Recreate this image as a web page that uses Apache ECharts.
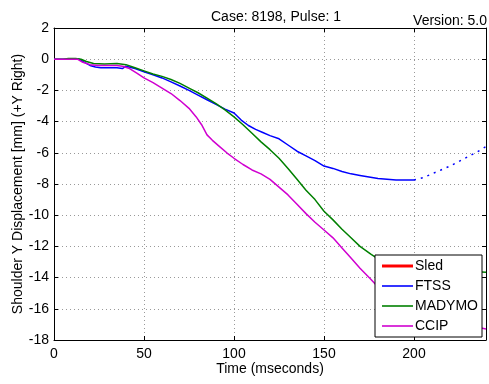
<!DOCTYPE html>
<html>
<head>
<meta charset="utf-8">
<script src="https://cdn.jsdelivr.net/npm/echarts@6/dist/echarts.min.js"></script>
<style>
	html, body { margin: 0; padding: 0; background: #fff; }
	#chart { width: 489px; height: 384px; }
</style>
</head>
<body>
<div id="chart"></div>
<script>
var xTicks = [0, 50, 100, 150, 200];
var yTicks = [2, 0, -2, -4, -6, -8, -10, -12, -14, -16, -18];

var sledTime = [];
var sledVals = [];

var ftssTime = [0, 5, 10, 14, 17, 20, 23, 26, 30, 35, 38, 40, 45, 50, 55, 60, 65, 70, 75, 80, 85, 90, 95, 100, 104, 108, 112, 116, 120, 125, 130, 135, 140, 145, 150, 155, 160, 165, 170, 175, 180, 185, 190, 195, 200];
var ftssVals = [0, 0, 0, 0, -0.2, -0.4, -0.5, -0.55, -0.55, -0.55, -0.6, -0.45, -0.6, -0.8, -1.0, -1.2, -1.45, -1.72, -2.0, -2.3, -2.6, -2.9, -3.2, -3.45, -3.9, -4.25, -4.5, -4.7, -4.9, -5.1, -5.5, -5.9, -6.2, -6.5, -6.85, -7.0, -7.2, -7.35, -7.45, -7.55, -7.65, -7.7, -7.75, -7.75, -7.75];

// extrapolated part of FTSS, drawn dotted
var ftssExtTime = [200, 205, 210, 215, 220, 225, 230, 235, 240];
var ftssExtVals = [-7.75, -7.6, -7.35, -7.1, -6.85, -6.55, -6.25, -5.95, -5.6];

var madymoTime = [0, 5, 8, 12, 15, 18, 22, 28, 35, 40, 45, 50, 55, 60, 65, 70, 75, 80, 85, 90, 95, 100, 105, 110, 115, 120, 125, 130, 135, 140, 145, 150, 155, 160, 165, 170, 176, 180, 190, 200, 210, 220, 230, 240];
var madymoVals = [0, 0, 0.05, 0.05, 0, -0.15, -0.28, -0.3, -0.28, -0.35, -0.55, -0.75, -0.95, -1.1, -1.3, -1.55, -1.85, -2.15, -2.5, -2.85, -3.25, -3.7, -4.2, -4.75, -5.3, -5.8, -6.35, -7.0, -7.7, -8.4, -9.0, -9.75, -10.3, -10.9, -11.45, -12.0, -12.5, -12.8, -13.1, -13.3, -13.45, -13.55, -13.6, -13.65];

var ccipTime = [0, 10, 13, 16, 20, 25, 30, 35, 38, 42, 46, 50, 55, 60, 65, 70, 75, 79, 82, 85, 88, 92, 96, 100, 105, 110, 115, 120, 125, 130, 135, 140, 145, 150, 155, 160, 165, 170, 176, 180, 190, 200, 210, 220, 230, 240];
var ccipVals = [0, 0, 0, -0.2, -0.35, -0.4, -0.4, -0.4, -0.45, -0.6, -0.9, -1.2, -1.5, -1.85, -2.2, -2.65, -3.15, -3.7, -4.2, -4.85, -5.2, -5.6, -6.0, -6.35, -6.75, -7.1, -7.35, -7.7, -8.2, -8.7, -9.3, -9.9, -10.45, -10.95, -11.45, -12.1, -12.75, -13.4, -14.1, -14.6, -15.4, -16.0, -16.45, -16.8, -17.05, -17.3];

function pairs(t, v) {
	var out = [];
	for (var i = 0; i < t.length; i++) {
		out.push([t[i], v[i]]);
	}
	return out;
}

var font = 'Liberation Sans, Arial, sans-serif';
var fs = 14;
function gridLine() {
	return { show: true, lineStyle: { color: '#999', type: [1, 3], width: 1 } };
}
var blackLine = { show: true, onZero: false, lineStyle: { color: '#000', width: 1 } };
var inTick = { show: true, inside: true, length: 4, lineStyle: { color: '#000' } };
var thinIcon = 'path://M0,0H31V1.6H0Z';
var thickIcon = 'path://M0,0H31V3H0Z';

var chart = echarts.init(document.getElementById('chart'));
chart.setOption({
	animation: false,
	backgroundColor: '#fff',
	textStyle: { fontFamily: font },
	title: {
		text: 'Case: 8198, Pulse: 1',
		left: 271,
		textAlign: 'center',
		top: 5,
		textStyle: { fontSize: fs, fontWeight: 'normal', color: '#000', fontFamily: font }
	},
	graphic: [{
		type: 'text',
		right: 2,
		top: 14,
		style: { text: 'Version: 5.0', font: fs + 'px ' + font, fill: '#000' }
	}],
	grid: { left: 54, right: -1, top: 28, bottom: 44, containLabel: false },
	legend: {
		orient: 'vertical',
		left: 375,
		top: 255,
		width: 112,
		padding: [4, 4, 4, 7],
		itemWidth: 31,
		itemHeight: 14,
		itemGap: 6,
		backgroundColor: '#fff',
		borderColor: '#000',
		borderWidth: 1,
		textStyle: { fontSize: fs, color: '#000', fontFamily: font, padding: [0, 0, 0, -3] },
		data: [
			{ name: 'Sled', icon: thickIcon },
			{ name: 'FTSS', icon: thinIcon },
			{ name: 'MADYMO', icon: thinIcon },
			{ name: 'CCIP', icon: thinIcon }
		]
	},
	xAxis: [{
		type: 'value',
		min: 0,
		max: 240,
		interval: 50,
		name: 'Time (mseconds)',
		nameLocation: 'middle',
		nameGap: 22,
		nameMoveOverlap: false,
		nameTextStyle: { fontSize: fs, color: '#000', fontFamily: font },
		axisLine: blackLine,
		axisTick: inTick,
		axisLabel: {
			color: '#000', fontSize: fs, margin: 7, fontFamily: font,
			formatter: function(v) { return xTicks.indexOf(v) >= 0 ? String(v) : ''; }
		},
		splitLine: gridLine()
	}, {
		type: 'value',
		position: 'top',
		min: 0,
		max: 240,
		interval: 50,
		axisLine: blackLine,
		axisTick: inTick,
		axisLabel: { show: false },
		splitLine: { show: false }
	}],
	yAxis: [{
		type: 'value',
		min: -18,
		max: 2,
		interval: 2,
		name: 'Shoulder Y Displacement [mm] (+Y Right)',
		nameLocation: 'middle',
		nameGap: 29,
		nameMoveOverlap: false,
		nameTextStyle: { fontSize: fs, color: '#000', fontFamily: font },
		axisLine: blackLine,
		axisTick: inTick,
		axisLabel: {
			color: '#000', fontSize: fs, margin: 5, fontFamily: font,
			formatter: function(v) { return yTicks.indexOf(v) >= 0 ? String(v) : ''; }
		},
		splitLine: gridLine()
	}, {
		type: 'value',
		position: 'right',
		min: -18,
		max: 2,
		interval: 2,
		axisLine: blackLine,
		axisTick: inTick,
		axisLabel: { show: false },
		splitLine: { show: false }
	}],
	series: [{
		name: 'Sled',
		type: 'line',
		symbol: 'none',
		color: '#ff0000',
		lineStyle: { width: 3 },
		data: pairs(sledTime, sledVals)
	}, {
		name: 'FTSS',
		type: 'line',
		symbol: 'none',
		color: '#0000ff',
		lineStyle: { width: 1.5 },
		data: pairs(ftssTime, ftssVals)
	}, {
		name: 'FTSS ext',
		type: 'line',
		symbol: 'none',
		color: '#0000ff',
		lineStyle: { width: 1.5, type: [2, 5] },
		data: pairs(ftssExtTime, ftssExtVals)
	}, {
		name: 'MADYMO',
		type: 'line',
		symbol: 'none',
		color: '#008000',
		lineStyle: { width: 1.5 },
		data: pairs(madymoTime, madymoVals)
	}, {
		name: 'CCIP',
		type: 'line',
		symbol: 'none',
		color: '#d000d0',
		lineStyle: { width: 1.5 },
		data: pairs(ccipTime, ccipVals)
	}]
});
</script>
</body>
</html>
